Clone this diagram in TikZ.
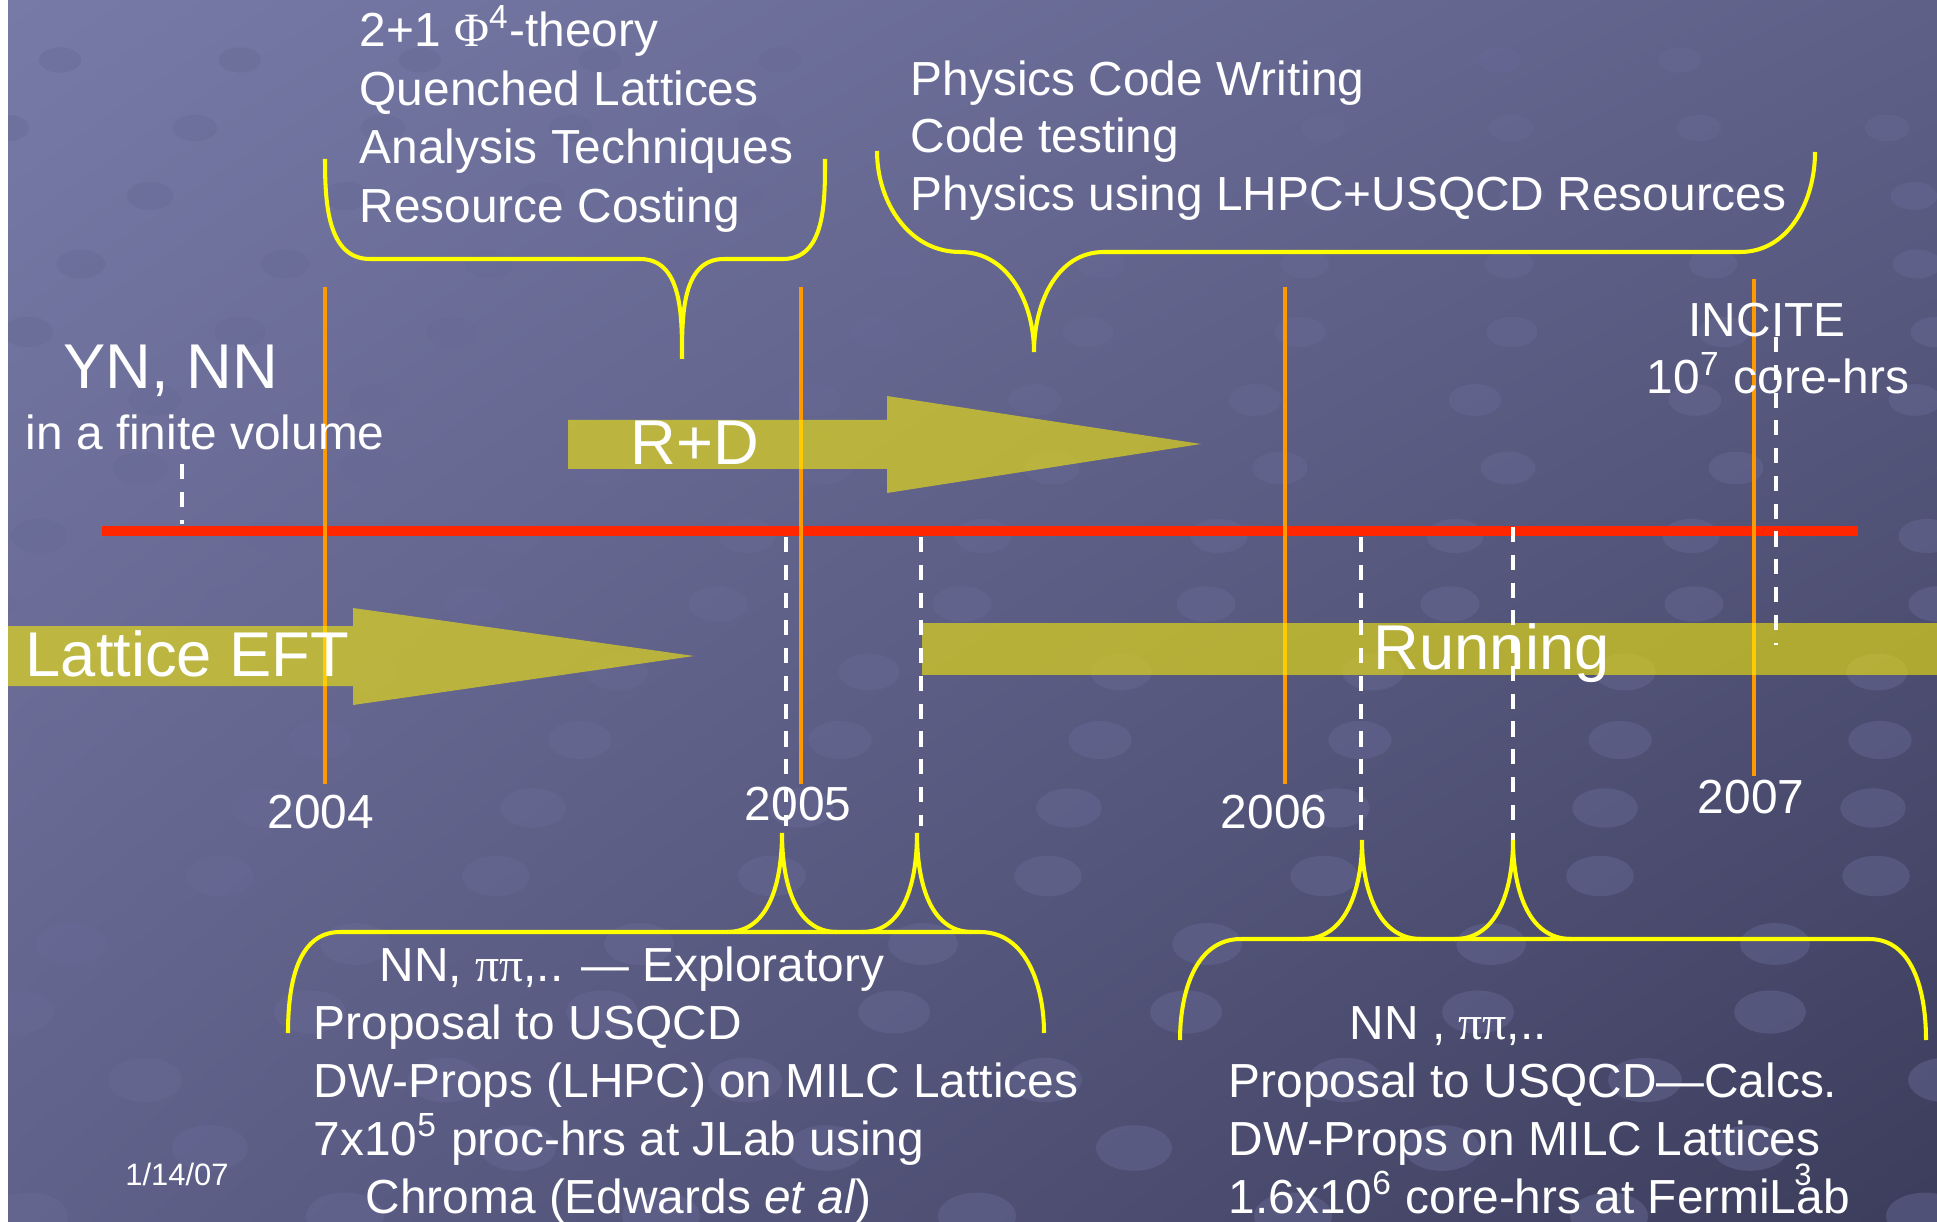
\documentclass[tikz,border=0pt]{standalone}
\usepackage{fontspec}
\setmainfont{Liberation Sans}
\newfontfamily\grkfont{Liberation Serif}
\usetikzlibrary{shadings}
\definecolor{bgul}{RGB}{119,122,167}
\definecolor{bgur}{RGB}{94,96,136}
\definecolor{bgll}{RGB}{96,97,138}
\definecolor{bglr}{RGB}{60,61,92}
\definecolor{dotc}{RGB}{104,106,150}
\definecolor{linered}{RGB}{255,38,0}
\definecolor{yrorange}{RGB}{255,153,0}
\definecolor{braceyel}{RGB}{255,255,0}

\begin{document}
\begin{tikzpicture}[x=0.01cm,y=-0.01cm,
  txt/.style={text=white,inner sep=0pt,anchor=base west,font=\fontsize{13.6}{16.5}\selectfont},
  bigtxt/.style={text=white,inner sep=0pt,anchor=base west,font=\fontsize{18}{21}\selectfont},
  yrlabel/.style={text=white,inner sep=0pt,anchor=base,font=\fontsize{13.6}{16.5}\selectfont},
  tinytxt/.style={text=white,inner sep=0pt,anchor=base,font=\fontsize{8.8}{10}\selectfont},
  yrline/.style={draw=yrorange,line width=1.2pt},
  dashln/.style={draw=white,line width=1pt,dash pattern=on 4.3pt off 3.6pt},
  brace/.style={draw=braceyel,line width=1.15pt},
  band/.style={fill=yellow,fill opacity=0.56},
  dot/.style={fill=dotc,opacity=0.45}]

\useasboundingbox (0,0) rectangle (1937,1222);
\shade[upper left=bgul,upper right=bgur,lower left=bgll,lower right=bglr] (8,0) rectangle (1937,1222);
\fill[white] (0,0) rectangle (8,1222);

\begin{scope}
\clip (8,0) rectangle (1937,1222);
\foreach \j in {0,...,17} {
  \pgfmathsetmacro\rx{6+0.3*\j}
  \pgfmathsetmacro\ry{3.6+0.18*\j}
  \foreach \i in {0,...,10}
    \fill[dot] ({mod(37*\j,190)+\i*(180+8*\j)-120+mod(\j,2)*90},{60+68*\j}) ellipse [x radius=\rx pt, y radius=\ry pt];
}
\end{scope}

\draw[draw=linered,line width=3pt] (102,531) -- (1858,531);

\draw[yrline] (325,287) -- (325,784);
\draw[yrline] (801,287) -- (801,784);
\draw[yrline] (1285,287) -- (1285,784);
\draw[yrline] (1754,279) -- (1754,776);

\node[yrlabel] (y2004) at (321,828) {2004};
\node[yrlabel] (y2005) at (798,820) {2005};
\node[yrlabel] (y2006) at (1274,828) {2006};
\node[yrlabel] (y2007) at (1751,813) {2007};

\fill[band] (8,626) -- (353,626) -- (353,608) -- (694,656) -- (353,705) -- (353,686) -- (8,686) -- cycle;
\fill[band] (568,420) -- (887,420) -- (887,396) -- (1201,444) -- (887,493) -- (887,469) -- (568,469) -- cycle;
\fill[band] (922,623) rectangle (1937,675);

\node[bigtxt] (eft) at (25,676) {Lattice EFT};
\node[bigtxt] (rnd) at (630,465) {R+D};
\node[bigtxt] (run) at (1373,669) {Running};

\node[bigtxt,anchor=base] (ynnn) at (171,389) {YN, NN};
\node[txt] (finvol) at (25,450) {in a finite volume};
\node[txt,anchor=base] (incite) at (1767,337) {INCITE};
\node[txt,anchor=base] (hrs) at (1778,394) {10\textsuperscript{7} core-hrs};

\coordinate (fv) at (182,464);
\coordinate (ln) at (182,524);
\draw[dashln] (fv) -- (ln);

\coordinate (tipa) at (782,833);
\coordinate (tipb) at (917,833);
\coordinate (tipc) at (1362,840);
\coordinate (tipd) at (1513,840);

\draw[dashln] (786,537) -- (786,826);
\draw[dashln] (921,537) -- (921,826);
\draw[dashln] (1361,537) -- (1361,836);
\draw[dashln] (1513,527) -- (tipd);
\draw[dashln] (1776,337) -- (1776,645);

\draw[brace] (325,159) to[out=-90,in=180] (370,259) -- (640,259) to[out=0,in=90] (682,359) to[out=90,in=180] (724,259) -- (783,259) to[out=0,in=-90] (825,159);
\draw[brace] (877,151) to[out=-90,in=180] (960,252) to[out=0,in=90] (1034,352) to[out=90,in=180] (1104,252) -- (1740,252) to[out=0,in=-90] (1815,152);

\draw[brace] (288,1033) to[out=90,in=180] (340,932) -- (980,932) to[out=0,in=90] (1044,1033);
\draw[brace] (727,932) to[out=0,in=-90] (tipa) to[out=-90,in=180] (837,932);
\draw[brace] (862,932) to[out=0,in=-90] (tipb) to[out=-90,in=180] (972,932);

\draw[brace] (1180,1040) to[out=90,in=180] (1241,939) -- (1869,939) to[out=0,in=90] (1926,1040);
\draw[brace] (1303,939) to[out=0,in=-90] (tipc) to[out=-90,in=180] (1421,939);
\draw[brace] (1455,939) to[out=0,in=-90] (tipd) to[out=-90,in=180] (1571,939);

\node[txt] (phi) at (359,47) {2+1 {\grkfont Φ}\textsuperscript{4}-theory};
\node[txt] (quen) at (359,106) {Quenched Lattices};
\node[txt] (anal) at (359,164) {Analysis Techniques};
\node[txt] (cost) at (359,223) {Resource Costing};

\node[txt] (pcw) at (910,96) {Physics Code Writing};
\node[txt] (ctest) at (910,153) {Code testing};
\node[txt] (lhpc) at (910,211) {Physics using LHPC+USQCD Resources};

\node[txt] (expl) at (379,981) {NN, {\grkfont ππ},.. — Exploratory};
\node[txt] (propa) at (313,1039) {Proposal to USQCD};
\node[txt] (dwa) at (313,1097) {DW-Props (LHPC) on MILC Lattices};
\node[txt] (jlab) at (313,1155) {7x10\textsuperscript{5} proc-hrs at JLab using};
\node[txt] (chroma) at (365,1213) {Chroma (Edwards \textit{et al})};

\node[txt] (calc) at (1349,1039) {NN , {\grkfont ππ},..};
\node[txt] (propb) at (1228,1097) {Proposal to USQCD—Calcs.};
\node[txt] (dwb) at (1228,1155) {DW-Props on MILC Lattices};
\node[txt] (fnal) at (1228,1213) {1.6x10\textsuperscript{6} core-hrs at FermiLab};

\node[tinytxt] (date) at (177,1185) {1/14/07};
\node[tinytxt] (pg) at (1803,1185) {3};

\end{tikzpicture}
\end{document}
